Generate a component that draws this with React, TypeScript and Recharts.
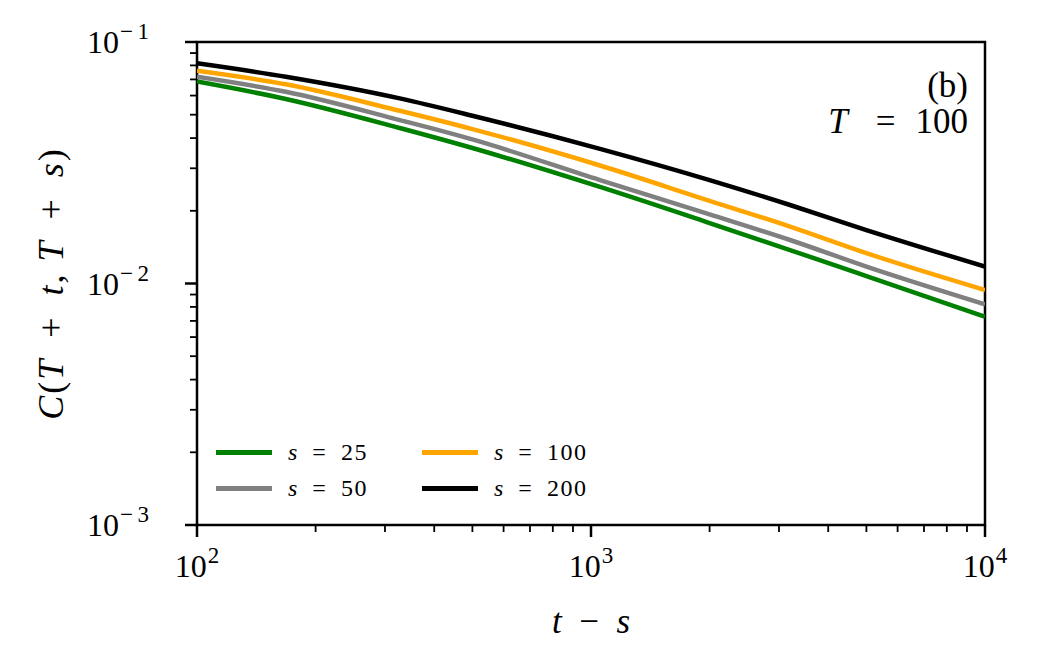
import { LineChart, Line, XAxis, YAxis, ReferenceArea, Legend, Label } from "recharts";

const FONT = "'Liberation Serif', 'DejaVu Serif', serif";
const EN = "\u2002";

const tMinusS = [100, 168, 327, 500, 1054, 2000, 3200, 5000, 10000];

// C(T+t, T+s) for T = 100
const s25 = [0.0686, 0.0581, 0.04405, 0.0364, 0.0251, 0.0178, 0.01376, 0.01074, 0.00729];
const s50 = [0.0718, 0.0622, 0.0475, 0.0395, 0.0268, 0.01934, 0.01514, 0.01175, 0.0082];
const s100 = [0.076, 0.0668, 0.0519, 0.0436, 0.0308, 0.022, 0.0172, 0.01335, 0.0094];
const s200 = [0.0816, 0.0718, 0.0584, 0.0495, 0.0361, 0.0268, 0.02114, 0.01665, 0.01175];

const xTicks = [100, 200, 300, 400, 500, 600, 700, 800, 900, 1000, 2000, 3000, 4000, 5000, 6000, 7000, 8000, 9000, 10000];
const yTicks = [
  0.001, 0.002, 0.003, 0.004, 0.005, 0.006, 0.007, 0.008, 0.009,
  0.01, 0.02, 0.03, 0.04, 0.05, 0.06, 0.07, 0.08, 0.09, 0.1,
];

const series = [
  { key: "s25", label: "25", color: "#008000" },
  { key: "s50", label: "50", color: "#808080" },
  { key: "s100", label: "100", color: "#FFA500" },
  { key: "s200", label: "200", color: "#000000" },
];

const data = tMinusS.map((t, i) => ({
  t,
  s25: s25[i],
  s50: s50[i],
  s100: s100[i],
  s200: s200[i],
}));

function isMajor(v: number) {
  const l = Math.log10(v);
  return Math.abs(l - Math.round(l)) < 1e-6;
}

function Power({ v }: { v: number }) {
  const e = Math.round(Math.log10(v));
  return (
    <>
      10
      <tspan dy={-14} dx={1} fontSize={23}>
        {(e < 0 ? "\u2212\u2009" : "") + Math.abs(e)}
      </tspan>
    </>
  );
}

function XTick({ x, y, payload }: any) {
  const major = isMajor(payload.value);
  return (
    <g>
      <line x1={x} x2={x} y1={y} y2={y + (major ? 12 : 7)} stroke="#000" strokeWidth={major ? 2.5 : 1.8} />
      {major && (
        <text x={x} y={y + 52} textAnchor="middle" fontSize={32} fontFamily={FONT} fill="#000">
          <Power v={payload.value} />
        </text>
      )}
    </g>
  );
}

function YTick({ x, y, payload }: any) {
  const major = isMajor(payload.value);
  return (
    <g>
      <line x1={x - (major ? 12 : 7)} x2={x} y1={y} y2={y} stroke="#000" strokeWidth={major ? 2.5 : 1.8} />
      {major && (
        <text x={x - 110} y={y + 11} textAnchor="start" fontSize={32} fontFamily={FONT} fill="#000">
          <Power v={payload.value} />
        </text>
      )}
    </g>
  );
}

function XTitle(props: any) {
  const vb = props.viewBox || { x: 197, y: 525, width: 788 };
  return (
    <text x={vb.x + vb.width / 2} y={vb.y + 108} textAnchor="middle" fontSize={35} fontFamily={FONT} fill="#000">
      <tspan fontStyle="italic">t</tspan>
      {EN + "\u2212" + EN}
      <tspan fontStyle="italic">s</tspan>
    </text>
  );
}

function YTitle(props: any) {
  const vb = props.viewBox || { x: 0, y: 42, height: 483 };
  const cx = 51;
  const cy = vb.y + vb.height / 2;
  return (
    <text
      x={cx}
      y={cy}
      transform={`rotate(-90 ${cx} ${cy})`}
      textAnchor="middle"
      dominantBaseline="central"
      fontSize={36}
      letterSpacing={2}
      fontFamily={FONT}
      fill="#000"
    >
      <tspan fontStyle="italic">C</tspan>(<tspan fontStyle="italic">T</tspan>
      {EN + "+" + EN}
      <tspan fontStyle="italic">t</tspan>
      {", "}
      <tspan fontStyle="italic">T</tspan>
      {EN + "+" + EN}
      <tspan fontStyle="italic">s</tspan>)
    </text>
  );
}

function CornerNote(props: any) {
  const vb = props.viewBox || { x: 197, y: 42, width: 788 };
  const right = vb.x + vb.width - 17;
  return (
    <g fontFamily={FONT} fontSize={35} fill="#000">
      <text x={right} y={vb.y + 55} textAnchor="end">
        (b)
      </text>
      <text x={right} y={vb.y + 91} textAnchor="end">
        <tspan fontStyle="italic">T</tspan>
        <tspan dx={28}>=</tspan>
        <tspan dx={20}>100</tspan>
      </text>
    </g>
  );
}

function LegendBox() {
  return (
    <div style={{ position: "relative", width: 420, height: 72, fontFamily: FONT, fontSize: 24, color: "#000" }}>
      {series.map((s, i) => {
        const col = Math.floor(i / 2);
        const row = i % 2;
        return (
          <div
            key={s.key}
            style={{
              position: "absolute",
              left: col * 206,
              top: row * 36,
              height: 36,
              display: "flex",
              alignItems: "center",
              whiteSpace: "nowrap",
            }}
          >
            <span style={{ display: "inline-block", width: 56, height: 5, background: s.color }} />
            <span style={{ marginLeft: 16, letterSpacing: 1.5 }}>
              <i>s</i>
              {EN + "=" + EN}
              {s.label}
            </span>
          </div>
        );
      })}
    </div>
  );
}

export default function App() {
  return (
    <div style={{ width: 1041, height: 668, background: "#fff" }}>
      <style>{"body{margin:0}"}</style>
      <LineChart width={1041} height={668} data={data} margin={{ top: 42, right: 56, left: 0, bottom: 0 }}>
        <XAxis
          dataKey="t"
          type="number"
          scale="log"
          domain={[100, 10000]}
          ticks={xTicks}
          interval={0}
          allowDataOverflow
          axisLine={false}
          tickLine={false}
          tickSize={0}
          tickMargin={0}
          tick={<XTick />}
          height={143}
        >
          <Label content={<XTitle />} />
        </XAxis>
        <YAxis
          type="number"
          scale="log"
          domain={[0.001, 0.1]}
          ticks={yTicks}
          interval={0}
          allowDataOverflow
          axisLine={false}
          tickLine={false}
          tickSize={0}
          tickMargin={0}
          tick={<YTick />}
          width={197}
        >
          <Label content={<YTitle />} />
        </YAxis>
        {series.map((s) => (
          <Line
            key={s.key}
            dataKey={s.key}
            type="monotone"
            stroke={s.color}
            strokeWidth={4.5}
            dot={false}
            isAnimationActive={false}
          />
        ))}
        <ReferenceArea
          x1={100}
          x2={10000}
          y1={0.001}
          y2={0.1}
          fill="none"
          fillOpacity={0}
          stroke="#000"
          strokeWidth={2.5}
          label={<CornerNote />}
        />
        <Legend
          layout="horizontal"
          verticalAlign="middle"
          align="center"
          content={<LegendBox />}
          wrapperStyle={{ left: 216, top: 434, width: 420, height: 72 }}
        />
      </LineChart>
    </div>
  );
}
